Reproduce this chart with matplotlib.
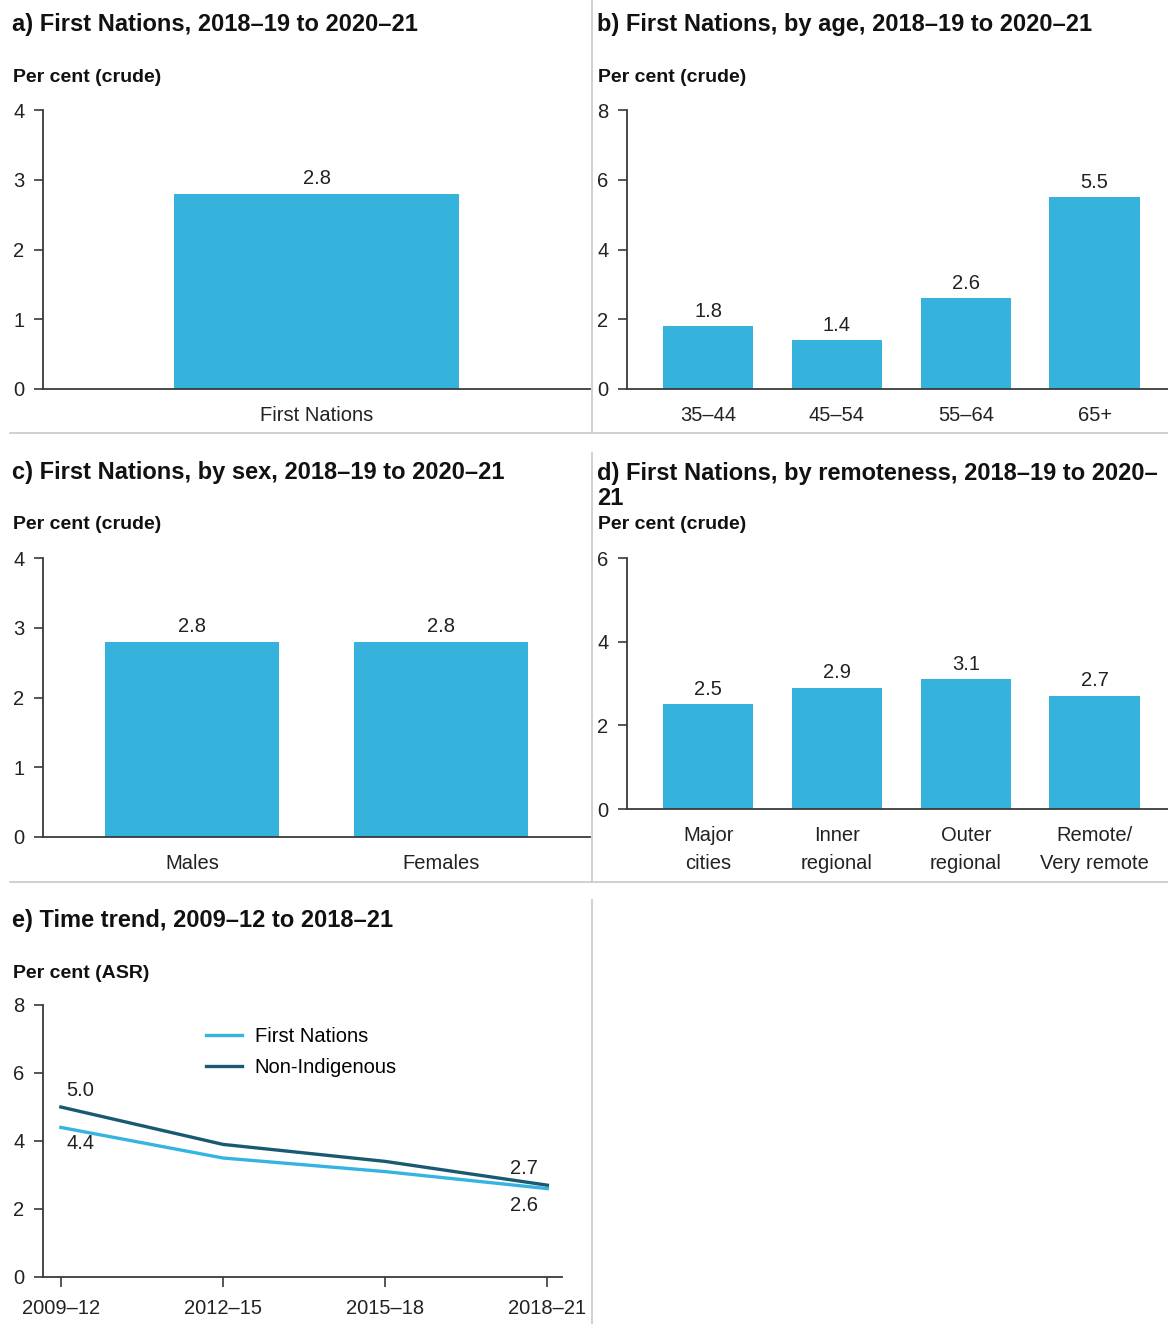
import matplotlib
matplotlib.use("Agg")
import matplotlib.pyplot as plt
from matplotlib import font_manager
from matplotlib.lines import Line2D

# ---- data ----
overall_cats = ["First Nations"]
overall_vals = [2.8]
age_cats = ["35–44", "45–54", "55–64", "65+"]
age_vals = [1.8, 1.4, 2.6, 5.5]
sex_cats = ["Males", "Females"]
sex_vals = [2.8, 2.8]
remote_cats = ["Major\ncities", "Inner\nregional", "Outer\nregional", "Remote/\nVery remote"]
remote_vals = [2.5, 2.9, 3.1, 2.7]
periods = ["2009–12", "2012–15", "2015–18", "2018–21"]
fn_trend = [4.4, 3.5, 3.1, 2.6]
nonind_trend = [5.0, 3.9, 3.4, 2.7]

W, H = 1168, 1324
BAR = "#35B3DC"
LIGHT = "#35B4E1"
DARK = "#195A72"
AXC = "#3a3a3a"
GRID = "#c8c8c8"
FS = 14.5

names = {f.name for f in font_manager.fontManager.ttflist}
BODY = "Liberation Sans" if "Liberation Sans" in names else "DejaVu Sans"
plt.rcParams["font.family"] = BODY

fig = plt.figure(figsize=(W / 100, H / 100), dpi=100)


def px_axes(l, t, r, b):
    return fig.add_axes([l / W, 1 - b / H, (r - l) / W, (b - t) / H])


def fig_text(x, y, s, **kw):
    fig.text(x / W, 1 - y / H, s, va="center", ha="left", color="#111111", **kw)


def panel_head(x, y, title, unit, unit_y):
    fig_text(x, y, title, fontsize=17, fontweight="bold", linespacing=1.15)
    fig_text(x + 1, unit_y, unit, fontsize=14, fontweight="bold")


def style(ax, ymax, step):
    for s in ("top", "right"):
        ax.spines[s].set_visible(False)
    for s in ("left", "bottom"):
        ax.spines[s].set_color(AXC)
        ax.spines[s].set_linewidth(1.3)
    ax.set_ylim(0, ymax)
    ax.set_yticks(range(0, ymax + 1, step))
    ax.tick_params(axis="y", direction="out", length=6.5, width=1.2, color=AXC,
                   labelsize=FS, labelcolor="#222222", pad=7)
    ax.tick_params(axis="x", length=0, labelsize=FS, labelcolor="#222222", pad=12)


def bars(ax, cats, vals, width, xlim):
    x = range(len(cats))
    ax.bar(x, vals, width=width, color=BAR)
    for i, v in zip(x, vals):
        ax.annotate(f"{v:.1f}", (i, v), xytext=(0, 4), textcoords="offset points",
                    ha="center", va="bottom", fontsize=FS, color="#222222")
    ax.set_xticks(list(x))
    ax.set_xticklabels(cats, linespacing=1.6)
    ax.set_xlim(*xlim)


# a) overall
panel_head(12, 25, "a) First Nations, 2018–19 to 2020–21", "Per cent (crude)", 77)
ax = px_axes(43, 110, 590, 389)
style(ax, 4, 1)
bars(ax, overall_cats, overall_vals, 0.52, (-0.5, 0.5))

# b) by age
panel_head(597, 25, "b) First Nations, by age, 2018–19 to 2020–21", "Per cent (crude)", 77)
ax = px_axes(627, 110, 1168, 389)
style(ax, 8, 2)
bars(ax, age_cats, age_vals, 0.70, (-0.63, 3.57))

# c) by sex
panel_head(12, 473, "c) First Nations, by sex, 2018–19 to 2020–21", "Per cent (crude)", 525)
ax = px_axes(43, 558, 590, 837)
style(ax, 4, 1)
bars(ax, sex_cats, sex_vals, 0.70, (-0.6, 1.6))

# d) by remoteness
panel_head(597, 486, "d) First Nations, by remoteness, 2018–19 to 2020–\n21", "Per cent (crude)", 525)
ax = px_axes(627, 558, 1168, 809)
style(ax, 6, 2)
bars(ax, remote_cats, remote_vals, 0.70, (-0.63, 3.57))

# e) time trend
panel_head(12, 921, "e) Time trend, 2009–12 to 2018–21", "Per cent (ASR)", 973)
ax = px_axes(43, 1005, 562, 1277)
style(ax, 8, 2)
x = range(len(periods))
ax.plot(x, fn_trend, color=LIGHT, lw=2.4, label="First Nations")
ax.plot(x, nonind_trend, color=DARK, lw=2.4, label="Non-Indigenous")
ax.set_xticks(list(x))
ax.set_xticklabels(periods)
ax.set_xlim(-0.11, 3.09)
ax.tick_params(axis="x", direction="out", length=7, width=1.2, color=AXC, pad=9)
for i in (0, len(periods) - 1):
    ax.annotate(f"{nonind_trend[i]:.1f}", (i, nonind_trend[i]), xytext=(14 if i == 0 else -17, 5),
                textcoords="offset points", ha="center", va="bottom", fontsize=FS, color="#222222")
    ax.annotate(f"{fn_trend[i]:.1f}", (i, fn_trend[i]), xytext=(14 if i == 0 else -17, -5),
                textcoords="offset points", ha="center", va="top", fontsize=FS, color="#222222")
ax.legend(loc="upper left", bbox_to_anchor=(0.28, 0.985), frameon=False, fontsize=FS,
          handlelength=1.75, handletextpad=0.65, labelspacing=0.6)

# light separators between panels
def seg(x0, y0, x1, y1):
    fig.add_artist(Line2D([x0 / W, x1 / W], [1 - y0 / H, 1 - y1 / H], color=GRID, lw=1.2))

seg(592, 0, 592, 433)
seg(10, 433, 592, 433)
seg(594, 433, 1168, 433)
seg(592, 453, 592, 882)
seg(10, 882, 592, 882)
seg(594, 882, 1168, 882)
seg(592, 900, 592, 1324)

fig.savefig("out.png", dpi=100)
